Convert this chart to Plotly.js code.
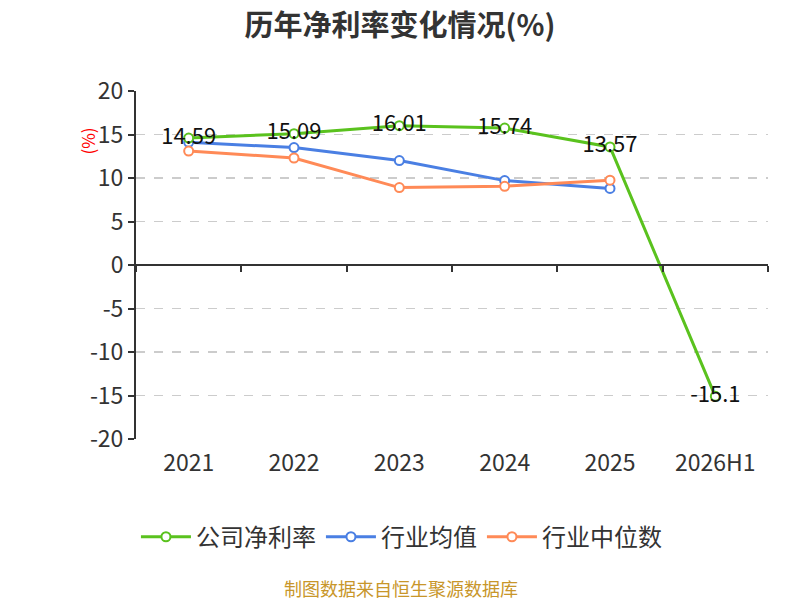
<!DOCTYPE html>
<html>
<head>
<meta charset="utf-8">
<script src="https://cdn.plot.ly/plotly-3.0.1.min.js"></script>
<style>
  body { margin: 0; background: #fff; }
  #chart { width: 800px; height: 600px; }
</style>
</head>
<body>
<div id="chart"></div>
<script>
const years = ["2021", "2022", "2023", "2024", "2025", "2026H1"];
const companyMargin = [14.59, 15.09, 16.01, 15.74, 13.57, -15.1];
const industryMean = [14.1, 13.5, 12.0, 9.7, 8.8, null];
const industryMedian = [13.1, 12.3, 8.9, 9.05, 9.75, null];
const yTicks = [20, 15, 10, 5, 0, -5, -10, -15, -20];

const FONT = '"Noto Sans CJK SC", "Noto Sans", sans-serif';
const green = "#5ac21e";
const blue = "#4a7fe3";
const orange = "#ff8a57";

const lineTrace = (name, values, color, rank, withText) => ({
  name: name,
  legendrank: rank,
  x: years,
  y: values,
  type: "scatter",
  mode: withText ? "lines+markers+text" : "lines+markers",
  line: { color: color, width: 3 },
  marker: {
    color: "#ffffff",
    size: 9,
    line: { color: color, width: 2 },
  },
  text: withText ? values.map((v) => String(v)) : undefined,
  textposition: "middle center",
  textfont: { family: FONT, size: 22, color: "#111111" },
  cliponaxis: false,
  hoverinfo: "skip",
});

// industry lines first so the company line sits on top
const data = [
  lineTrace("行业均值", industryMean, blue, 2, false),
  lineTrace("行业中位数", industryMedian, orange, 3, false),
  lineTrace("公司净利率", companyMargin, green, 1, true),
  // invisible carrier so the zero-line category axis gets drawn
  {
    x: years,
    y: companyMargin,
    xaxis: "x2",
    type: "scatter",
    mode: "markers",
    marker: { opacity: 0 },
    showlegend: false,
    hoverinfo: "skip",
  },
];

const layout = {
  width: 800,
  height: 600,
  paper_bgcolor: "#ffffff",
  plot_bgcolor: "#ffffff",
  font: { family: FONT, color: "#333333" },
  margin: { l: 136, r: 32, t: 91, b: 161 },
  title: {
    text: "<b>历年净利率变化情况(%)</b>",
    font: { family: FONT, size: 29, color: "#333333" },
    x: 0.5,
    xanchor: "center",
    y: 0.957,
    yanchor: "middle",
  },
  xaxis: {
    type: "category",
    categoryarray: years,
    range: [-0.5, 5.5],
    showline: false,
    showgrid: false,
    zeroline: false,
    ticks: "",
    tickfont: { family: FONT, size: 23, color: "#333333" },
    ticklabelstandoff: 8,
    fixedrange: true,
  },
  xaxis2: {
    type: "category",
    categoryarray: years,
    range: [-0.5, 5.5],
    overlaying: "x",
    anchor: "free",
    position: 0.5,
    side: "bottom",
    showline: true,
    linecolor: "#333333",
    linewidth: 2,
    ticks: "outside",
    tickson: "boundaries",
    ticklen: 6,
    tickwidth: 2,
    tickcolor: "#333333",
    showticklabels: false,
    showgrid: false,
    zeroline: false,
  },
  yaxis: {
    range: [-20, 20],
    tickvals: yTicks,
    ticktext: yTicks.map((v) => String(v)),
    showline: true,
    linecolor: "#333333",
    linewidth: 2,
    ticks: "outside",
    ticklen: 6,
    tickwidth: 2,
    tickcolor: "#333333",
    tickfont: { family: FONT, size: 23, color: "#333333" },
    showgrid: true,
    gridcolor: "#cccccc",
    gridwidth: 1.5,
    griddash: "dash",
    zeroline: false,
    fixedrange: true,
  },
  showlegend: true,
  legend: {
    orientation: "h",
    x: 0.42,
    xanchor: "center",
    xref: "paper",
    y: -0.282,
    yanchor: "middle",
    font: { family: FONT, size: 24, color: "#333333" },
    itemwidth: 50,
    traceorder: "normal",
  },
  annotations: [
    {
      text: "(%)",
      xref: "paper",
      yref: "paper",
      x: -0.1,
      y: 0.9,
      textangle: -90,
      showarrow: false,
      font: { family: FONT, size: 17, color: "#ff0000" },
    },
    {
      text: "制图数据来自恒生聚源数据库",
      xref: "paper",
      yref: "paper",
      x: 0.42,
      y: -0.428,
      xanchor: "center",
      yanchor: "middle",
      showarrow: false,
      font: { family: FONT, size: 18, color: "#c8962a" },
    },
  ],
};

Plotly.newPlot("chart", data, layout, { displayModeBar: false, staticPlot: true });
</script>
</body>
</html>
